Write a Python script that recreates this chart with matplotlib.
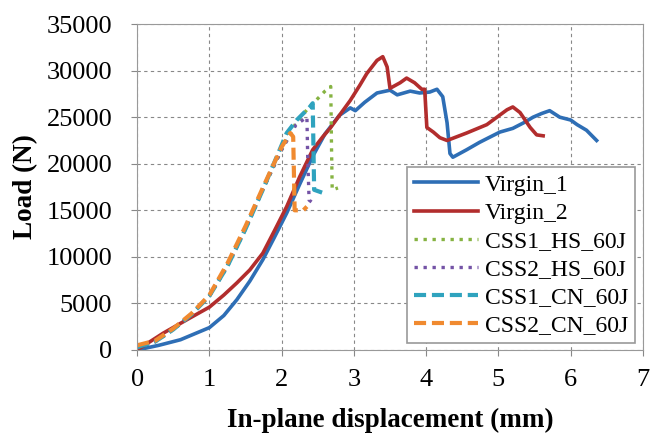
import matplotlib.pyplot as plt

# Load vs in-plane displacement
v1_x = [0.0, 0.3, 0.6, 1.0, 1.2, 1.38, 1.56, 1.74, 1.9, 2.07, 2.25, 2.43, 2.6, 2.8, 2.95, 3.02,
        3.15, 3.32, 3.5, 3.6, 3.78, 3.91, 4.05, 4.15, 4.23, 4.29, 4.33, 4.37, 4.56, 4.74,
        5.02, 5.2, 5.35, 5.48, 5.6, 5.71, 5.85, 6.0, 6.09, 6.22, 6.36]
v1_y = [0, 500, 1100, 2400, 3700, 5400, 7400, 9700, 12100, 14700, 17800, 20800, 23200, 25200, 26000, 25700,
        26600, 27600, 27900, 27400, 27800, 27600, 27700, 28000, 27200, 24400, 21100, 20700, 21500, 22300,
        23400, 23800, 24400, 25000, 25400, 25700, 25000, 24700, 24200, 23600, 22500]

v2_x = [0.0, 0.36, 0.7, 1.0, 1.2, 1.38, 1.56, 1.74, 1.9, 2.07, 2.25, 2.43, 2.57, 2.67, 2.8, 2.95,
        3.08, 3.18, 3.32, 3.4, 3.46, 3.5, 3.64, 3.73, 3.84, 3.94, 3.98, 4.01, 4.1, 4.19, 4.29,
        4.56, 4.84, 5.12, 5.2, 5.3, 5.44, 5.53, 5.62]
v2_y = [0, 1800, 3300, 4600, 5900, 7200, 8600, 10400, 12800, 15400, 18600, 21500, 22900, 23800, 25200, 26800,
        28400, 29700, 31100, 31500, 30400, 28100, 28700, 29200, 28700, 28000, 28000, 23900, 23400, 22800, 22500,
        23300, 24200, 25800, 26100, 25500, 23900, 23100, 23000]

hs1_x = [0.0, 0.25, 0.5, 0.75, 1.0, 1.25, 1.5, 1.75, 2.0, 2.2, 2.35, 2.5, 2.6, 2.68, 2.69, 2.7, 2.78]
hs1_y = [300, 900, 2200, 3800, 5800, 9000, 13000, 17400, 21500, 24400, 25800, 27000, 27800, 28300, 22000, 17200, 17400]

hs2_x = [0.0, 0.25, 0.5, 0.75, 1.0, 1.25, 1.5, 1.75, 2.0, 2.2, 2.35, 2.36, 2.38, 2.43]
hs2_y = [300, 900, 2200, 3800, 5800, 9000, 13000, 17400, 21500, 24200, 25000, 21000, 16100, 15800]

cn1_x = [0.0, 0.25, 0.5, 0.75, 1.0, 1.25, 1.5, 1.75, 2.0, 2.07, 2.21, 2.39, 2.43, 2.44, 2.45, 2.56]
cn1_y = [300, 900, 2200, 3800, 5800, 9000, 13000, 17400, 22000, 23300, 24700, 26100, 26500, 22000, 17200, 16900]

cn2_x = [0.0, 0.25, 0.5, 0.75, 1.0, 1.25, 1.5, 1.75, 2.0, 2.12, 2.16, 2.17, 2.18, 2.3, 2.35]
cn2_y = [500, 1000, 2300, 3900, 5900, 9300, 13300, 17600, 21800, 23300, 22900, 19000, 15000, 15000, 15400]

plt.rcParams['font.family'] = ['Liberation Serif', 'DejaVu Serif']

fig = plt.figure(figsize=(6.5, 4.38), dpi=100)
ax = fig.add_axes([0.211, 0.201, 0.778, 0.744])

ax.plot(v1_x, v1_y, color='#2E6EB5', linewidth=2.6, label='Virgin_1')
ax.plot(v2_x, v2_y, color='#B22D2D', linewidth=2.6, label='Virgin_2')
ax.plot(hs1_x, hs1_y, color='#86B342', linewidth=2.4, linestyle=(0, (1, 1.7)), label='CSS1_HS_60J')
ax.plot(hs2_x, hs2_y, color='#7453A6', linewidth=2.4, linestyle=(0, (1, 1.7)), label='CSS2_HS_60J')
ax.plot(cn1_x, cn1_y, color='#2FA3BE', linewidth=3, linestyle=(0, (2.9, 1.4)), label='CSS1_CN_60J')
ax.plot(cn2_x, cn2_y, color='#F08A30', linewidth=3, linestyle=(0, (2.9, 1.4)), label='CSS2_CN_60J')

ax.set_xlim(0, 7)
ax.set_ylim(0, 35000)
ax.set_xticks(range(0, 8))
ax.set_yticks(range(0, 35001, 5000))
ax.grid(True, color='#888888', linestyle=(0, (3, 3)), linewidth=0.8)
ax.set_axisbelow(True)
for s in ax.spines.values():
    s.set_color('#999999')
ax.tick_params(direction='out', length=4, color='#888888', labelsize=19)
ax.tick_params(axis='x', pad=10)
ax.tick_params(axis='y', pad=14)

ax.set_xlabel('In-plane displacement (mm)', fontsize=19.5, fontweight='bold', labelpad=12)
ax.set_ylabel('Load (N)', fontsize=19.5, fontweight='bold', labelpad=6)

leg = ax.legend(loc='lower right', bbox_to_anchor=(0.985, 0.02), fontsize=17, handlelength=2.7,
                fancybox=False, edgecolor='#999999', framealpha=1, borderpad=0.3,
                labelspacing=0.28, handletextpad=0.3, borderaxespad=0)
leg.get_frame().set_linewidth(1.2)

fig.savefig('out.png', dpi=100)
